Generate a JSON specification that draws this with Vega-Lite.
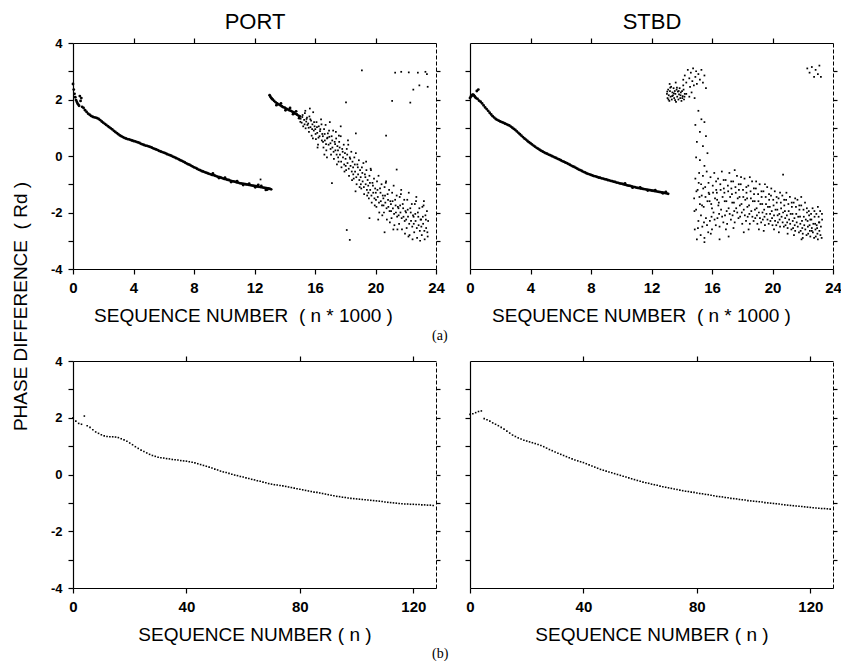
{
"$schema": "https://vega.github.io/schema/vega-lite/v6.json",
"background": "white",
"padding": {"left": 11, "top": 10, "right": 2, "bottom": 0},
"config": {
 "view": {"stroke": null},
 "font": "Liberation Sans",
 "axis": {"grid": false, "domainColor": "black", "tickColor": "black", "labelColor": "black", "titleColor": "black", "labelFont": "Liberation Sans", "labelFontWeight": "bold", "titleFont": "Liberation Sans", "titleFontWeight": "normal", "titleFontSize": 19, "labelFlush": false, "labelOverlap": false, "tickSize": 5, "domainWidth": 1.2, "tickWidth": 1.2, "titlePadding": 11},
 "axisX": {"labelFontSize": 15, "labelPadding": 6},
 "axisY": {"labelFontSize": 13, "labelPadding": 6},
 "title": {"font": "Liberation Serif", "fontWeight": "normal", "fontSize": 14, "color": "black"}
},
"datasets": {
 "portCurve": [{"x":0,"y":2.55},{"x":0.05,"y":2.35},{"x":0.1,"y":2.2},{"x":0.15,"y":2.08},{"x":0.2,"y":1.98},{"x":0.25,"y":1.92},{"x":0.3,"y":1.86},{"x":0.35,"y":1.82},{"x":0.4,"y":1.78},{"x":0.45,"y":2.12},{"x":0.5,"y":1.95},{"x":0.55,"y":2.05},{"x":0.6,"y":1.74},{"x":0.7,"y":1.7},{"x":0.8,"y":1.62},{"x":0.9,"y":1.56},{"x":1,"y":1.5},{"x":1.1,"y":1.46},{"x":1.2,"y":1.42},{"x":1.3,"y":1.39},{"x":1.4,"y":1.37},{"x":1.5,"y":1.36},{"x":1.6,"y":1.34},{"x":1.7,"y":1.31},{"x":1.8,"y":1.27},{"x":1.9,"y":1.22},{"x":2,"y":1.18},{"x":2.1,"y":1.14},{"x":2.2,"y":1.1},{"x":2.3,"y":1.06},{"x":2.4,"y":1.02},{"x":2.5,"y":0.98},{"x":2.6,"y":0.94},{"x":2.7,"y":0.89},{"x":2.8,"y":0.85},{"x":2.9,"y":0.81},{"x":3,"y":0.77},{"x":3.1,"y":0.73},{"x":3.2,"y":0.7},{"x":3.3,"y":0.67},{"x":3.4,"y":0.64},{"x":3.5,"y":0.62},{"x":3.6,"y":0.6},{"x":3.7,"y":0.59},{"x":3.8,"y":0.57},{"x":3.9,"y":0.55},{"x":4,"y":0.53},{"x":4.1,"y":0.52},{"x":4.2,"y":0.5},{"x":4.3,"y":0.48},{"x":4.4,"y":0.46},{"x":4.5,"y":0.43},{"x":4.6,"y":0.41},{"x":4.7,"y":0.39},{"x":4.8,"y":0.37},{"x":4.9,"y":0.36},{"x":5,"y":0.34},{"x":5.1,"y":0.32},{"x":5.2,"y":0.3},{"x":5.3,"y":0.27},{"x":5.4,"y":0.25},{"x":5.5,"y":0.23},{"x":5.6,"y":0.21},{"x":5.7,"y":0.18},{"x":5.8,"y":0.16},{"x":5.9,"y":0.14},{"x":6,"y":0.12},{"x":6.1,"y":0.1},{"x":6.2,"y":0.07},{"x":6.3,"y":0.05},{"x":6.4,"y":0.03},{"x":6.5,"y":0.01},{"x":6.6,"y":-0.02},{"x":6.7,"y":-0.04},{"x":6.8,"y":-0.07},{"x":6.9,"y":-0.09},{"x":7,"y":-0.12},{"x":7.1,"y":-0.15},{"x":7.2,"y":-0.17},{"x":7.3,"y":-0.2},{"x":7.4,"y":-0.23},{"x":7.5,"y":-0.26},{"x":7.6,"y":-0.29},{"x":7.7,"y":-0.31},{"x":7.8,"y":-0.34},{"x":7.9,"y":-0.37},{"x":8,"y":-0.4},{"x":8.1,"y":-0.42},{"x":8.2,"y":-0.45},{"x":8.3,"y":-0.48},{"x":8.4,"y":-0.5},{"x":8.5,"y":-0.53},{"x":8.6,"y":-0.55},{"x":8.7,"y":-0.57},{"x":8.8,"y":-0.59},{"x":8.9,"y":-0.61},{"x":9,"y":-0.63},{"x":9.1,"y":-0.65},{"x":9.2,"y":-0.67},{"x":9.3,"y":-0.68},{"x":9.4,"y":-0.7},{"x":9.5,"y":-0.72},{"x":9.6,"y":-0.74},{"x":9.7,"y":-0.75},{"x":9.8,"y":-0.77},{"x":9.9,"y":-0.79},{"x":10,"y":-0.81},{"x":10.1,"y":-0.82},{"x":10.2,"y":-0.84},{"x":10.3,"y":-0.85},{"x":10.4,"y":-0.87},{"x":10.5,"y":-0.89},{"x":10.6,"y":-0.9},{"x":10.7,"y":-0.91},{"x":10.8,"y":-0.93},{"x":10.9,"y":-0.94},{"x":11,"y":-0.96},{"x":11.1,"y":-0.97},{"x":11.2,"y":-0.98},{"x":11.3,"y":-0.99},{"x":11.4,"y":-1},{"x":11.5,"y":-1.01},{"x":11.6,"y":-1.02},{"x":11.7,"y":-1.03},{"x":11.8,"y":-1.04},{"x":11.9,"y":-1.05},{"x":12,"y":-1.06},{"x":12.1,"y":-1.07},{"x":12.2,"y":-1.08},{"x":12.3,"y":-1.09},{"x":12.4,"y":-1.1},{"x":12.5,"y":-1.11},{"x":12.6,"y":-1.12},{"x":12.7,"y":-1.13},{"x":12.8,"y":-1.14},{"x":12.9,"y":-1.15},{"x":13,"y":-1.16},{"x":13.1,"y":-1.18},{"x":9.25,"y":-0.62},{"x":9.65,"y":-0.78},{"x":10.05,"y":-0.77},{"x":10.45,"y":-0.92},{"x":10.85,"y":-0.89},{"x":11.25,"y":-1.03},{"x":11.65,"y":-0.98},{"x":12.05,"y":-1.11},{"x":12.45,"y":-1.06},{"x":12.85,"y":-1.19},{"x":12.25,"y":-1.02},{"x":12.75,"y":-1.2},{"x":13,"y":2.15},{"x":13.05,"y":2.1},{"x":13.1,"y":2.06},{"x":13.15,"y":2.03},{"x":13.2,"y":2},{"x":13.3,"y":1.95},{"x":13.4,"y":1.9},{"x":13.5,"y":1.86},{"x":13.6,"y":1.83},{"x":13.7,"y":1.8},{"x":13.8,"y":1.76},{"x":13.9,"y":1.73},{"x":14,"y":1.71},{"x":14.1,"y":1.68},{"x":14.2,"y":1.65},{"x":14.3,"y":1.62},{"x":14.4,"y":1.6},{"x":14.5,"y":1.57},{"x":14.6,"y":1.54},{"x":14.7,"y":1.5},{"x":14.8,"y":1.47},{"x":14.9,"y":1.43},{"x":15,"y":1.4},{"x":13.45,"y":1.8},{"x":13.75,"y":1.86},{"x":14.05,"y":1.62},{"x":14.35,"y":1.7},{"x":14.55,"y":1.48},{"x":14.75,"y":1.58},{"x":14.95,"y":1.34}],
 "portCloud": [{"x":12.4,"y":-0.83},{"x":15.05,"y":1.32},{"x":15.12,"y":1.18},{"x":15.18,"y":1.45},{"x":15.22,"y":1.05},{"x":15.28,"y":1.28},{"x":15.33,"y":1.52},{"x":15.38,"y":0.98},{"x":15.42,"y":1.22},{"x":15.47,"y":1.36},{"x":15.5,"y":1.1},{"x":15.55,"y":1.15},{"x":15.6,"y":0.85},{"x":15.63,"y":1.4},{"x":15.7,"y":1.02},{"x":15.74,"y":1.25},{"x":15.78,"y":0.72},{"x":15.83,"y":1.12},{"x":15.88,"y":1.55},{"x":15.92,"y":0.9},{"x":15.97,"y":1.05},{"x":15.66,"y":1.68},{"x":16.02,"y":0.95},{"x":16.06,"y":0.6},{"x":16.1,"y":1.2},{"x":16.15,"y":0.82},{"x":16.2,"y":0.4},{"x":16.25,"y":1.05},{"x":16.3,"y":0.7},{"x":16.35,"y":0.95},{"x":16.4,"y":1.3},{"x":16.45,"y":0.55},{"x":16.48,"y":0.78},{"x":16.52,"y":0.7},{"x":16.56,"y":0.3},{"x":16.6,"y":0.95},{"x":16.65,"y":0.55},{"x":16.7,"y":1.1},{"x":16.75,"y":0.2},{"x":16.8,"y":0.62},{"x":16.85,"y":0.8},{"x":16.9,"y":0.4},{"x":16.95,"y":0.68},{"x":16.98,"y":1.2},{"x":16.62,"y":0.05},{"x":17.02,"y":0.45},{"x":17.06,"y":0.05},{"x":17.1,"y":0.7},{"x":17.15,"y":0.3},{"x":17.2,"y":0.9},{"x":17.25,"y":-0.1},{"x":17.3,"y":0.5},{"x":17.35,"y":0.2},{"x":17.4,"y":0.62},{"x":17.45,"y":-0.3},{"x":17.48,"y":0.35},{"x":17.12,"y":-0.96},{"x":17.52,"y":0.2},{"x":17.56,"y":-0.2},{"x":17.6,"y":0.5},{"x":17.65,"y":0.05},{"x":17.7,"y":0.7},{"x":17.75,"y":-0.4},{"x":17.8,"y":0.25},{"x":17.85,"y":-0.05},{"x":17.9,"y":0.4},{"x":17.95,"y":-0.55},{"x":17.98,"y":0.1},{"x":17.7,"y":1.05},{"x":18.02,"y":-0.1},{"x":18.06,"y":-0.5},{"x":18.1,"y":0.25},{"x":18.15,"y":-0.25},{"x":18.2,"y":0.4},{"x":18.25,"y":-0.7},{"x":18.3,"y":-0.05},{"x":18.35,"y":-0.35},{"x":18.4,"y":0.15},{"x":18.45,"y":-0.85},{"x":18.48,"y":-0.2},{"x":18.05,"y":1.9},{"x":18.1,"y":-2.62},{"x":18.3,"y":-2.97},{"x":18.52,"y":-0.4},{"x":18.56,"y":-0.8},{"x":18.6,"y":-0.05},{"x":18.65,"y":-0.55},{"x":18.7,"y":0.1},{"x":18.75,"y":-1},{"x":18.8,"y":-0.3},{"x":18.85,"y":-0.65},{"x":18.9,"y":-0.15},{"x":18.95,"y":-1.1},{"x":18.98,"y":-0.5},{"x":18.7,"y":0.8},{"x":19.02,"y":-0.75},{"x":19.06,"y":-1.15},{"x":19.1,"y":-0.4},{"x":19.15,"y":-0.9},{"x":19.2,"y":-0.25},{"x":19.25,"y":-1.35},{"x":19.3,"y":-0.65},{"x":19.35,"y":-1},{"x":19.4,"y":-0.5},{"x":19.45,"y":-1.4},{"x":19.48,"y":-0.85},{"x":19.1,"y":3.03},{"x":19.52,"y":-1.05},{"x":19.56,"y":-1.5},{"x":19.6,"y":-0.7},{"x":19.65,"y":-1.2},{"x":19.7,"y":-0.5},{"x":19.75,"y":-1.65},{"x":19.8,"y":-0.95},{"x":19.85,"y":-1.3},{"x":19.9,"y":-0.8},{"x":19.95,"y":-1.75},{"x":19.98,"y":-1.15},{"x":19.6,"y":-2.2},{"x":20.02,"y":-1.3},{"x":20.06,"y":-1.8},{"x":20.1,"y":-0.9},{"x":20.15,"y":-1.45},{"x":20.2,"y":-0.7},{"x":20.25,"y":-2},{"x":20.3,"y":-1.15},{"x":20.35,"y":-1.6},{"x":20.4,"y":-1},{"x":20.45,"y":-2.1},{"x":20.48,"y":-1.4},{"x":20.7,"y":0.72},{"x":20.52,"y":-1.5},{"x":20.56,"y":-2},{"x":20.6,"y":-1.1},{"x":20.65,"y":-1.65},{"x":20.7,"y":-0.9},{"x":20.75,"y":-2.25},{"x":20.8,"y":-1.35},{"x":20.85,"y":-1.8},{"x":20.9,"y":-1.2},{"x":20.95,"y":-2.35},{"x":20.98,"y":-1.6},{"x":20.6,"y":-2.7},{"x":21.02,"y":-1.7},{"x":21.06,"y":-2.2},{"x":21.1,"y":-1.3},{"x":21.15,"y":-1.85},{"x":21.2,"y":-1.05},{"x":21.25,"y":-2.45},{"x":21.3,"y":-1.55},{"x":21.35,"y":-2},{"x":21.4,"y":-1.4},{"x":21.45,"y":-2.6},{"x":21.48,"y":-1.8},{"x":21.1,"y":1.95},{"x":21.4,"y":-0.48},{"x":21.3,"y":2.95},{"x":21.52,"y":-1.85},{"x":21.56,"y":-2.4},{"x":21.6,"y":-1.45},{"x":21.65,"y":-2},{"x":21.7,"y":-1.2},{"x":21.75,"y":-2.6},{"x":21.8,"y":-1.7},{"x":21.85,"y":-2.15},{"x":21.9,"y":-1.55},{"x":21.95,"y":-2.75},{"x":21.98,"y":-1.95},{"x":21.7,"y":2.98},{"x":22.02,"y":-2},{"x":22.06,"y":-2.55},{"x":22.1,"y":-1.55},{"x":22.15,"y":-2.15},{"x":22.2,"y":-1.3},{"x":22.25,"y":-2.8},{"x":22.3,"y":-1.85},{"x":22.35,"y":-2.3},{"x":22.4,"y":-1.7},{"x":22.45,"y":-2.95},{"x":22.48,"y":-2.1},{"x":22.3,"y":1.89},{"x":22.5,"y":2.35},{"x":22.2,"y":2.96},{"x":22.52,"y":-2.15},{"x":22.56,"y":-2.7},{"x":22.6,"y":-1.7},{"x":22.65,"y":-2.3},{"x":22.7,"y":-1.45},{"x":22.75,"y":-2.9},{"x":22.8,"y":-2},{"x":22.85,"y":-2.45},{"x":22.9,"y":-1.85},{"x":22.95,"y":-3},{"x":22.98,"y":-2.25},{"x":22.8,"y":2.95},{"x":22.9,"y":2.5},{"x":23.02,"y":-2.25},{"x":23.06,"y":-2.8},{"x":23.1,"y":-1.8},{"x":23.15,"y":-2.4},{"x":23.2,"y":-1.6},{"x":23.25,"y":-2.95},{"x":23.3,"y":-2.1},{"x":23.35,"y":-2.55},{"x":23.4,"y":-1.95},{"x":23.45,"y":-2.85},{"x":23.48,"y":-2.3},{"x":23.3,"y":2.98},{"x":23.4,"y":2.9},{"x":23.45,"y":2.45},{"x":15.03,"y":1.21},{"x":15.16,"y":1.38},{"x":15.31,"y":1.12},{"x":15.44,"y":1.31},{"x":15.36,"y":1.6},{"x":15.58,"y":1},{"x":15.69,"y":1.3},{"x":15.81,"y":0.95},{"x":15.94,"y":1.2},{"x":15.86,"y":0.62},{"x":16.04,"y":0.78},{"x":16.13,"y":1.02},{"x":16.23,"y":0.65},{"x":16.33,"y":0.88},{"x":16.43,"y":1.12},{"x":16.17,"y":0.3},{"x":16.53,"y":0.5},{"x":16.64,"y":0.78},{"x":16.73,"y":0.42},{"x":16.83,"y":0.65},{"x":16.93,"y":0.9},{"x":16.79,"y":-0.05},{"x":17.03,"y":0.25},{"x":17.14,"y":0.55},{"x":17.23,"y":0.15},{"x":17.33,"y":0.42},{"x":17.43,"y":0.05},{"x":17.38,"y":0.85},{"x":17.53,"y":-0.05},{"x":17.63,"y":0.3},{"x":17.73,"y":-0.2},{"x":17.83,"y":0.15},{"x":17.93,"y":-0.3},{"x":17.58,"y":0.72},{"x":18.03,"y":-0.35},{"x":18.13,"y":0.05},{"x":18.23,"y":-0.45},{"x":18.33,"y":-0.1},{"x":18.43,"y":-0.55},{"x":18.18,"y":0.55},{"x":18.53,"y":-0.65},{"x":18.63,"y":-0.3},{"x":18.73,"y":-0.75},{"x":18.83,"y":-0.4},{"x":18.93,"y":-0.85},{"x":18.68,"y":-1.25},{"x":19.03,"y":-1},{"x":19.13,"y":-0.6},{"x":19.23,"y":-1.1},{"x":19.33,"y":-0.75},{"x":19.43,"y":-1.2},{"x":19.38,"y":-0.2},{"x":19.53,"y":-1.3},{"x":19.63,"y":-0.95},{"x":19.73,"y":-1.4},{"x":19.83,"y":-1.05},{"x":19.93,"y":-1.5},{"x":19.68,"y":-0.45},{"x":20.03,"y":-1.55},{"x":20.13,"y":-1.2},{"x":20.23,"y":-1.65},{"x":20.33,"y":-1.3},{"x":20.43,"y":-1.75},{"x":20.18,"y":-2.25},{"x":20.53,"y":-1.75},{"x":20.63,"y":-1.4},{"x":20.73,"y":-1.85},{"x":20.83,"y":-1.55},{"x":20.93,"y":-1.95},{"x":20.68,"y":-0.95},{"x":21.03,"y":-1.95},{"x":21.13,"y":-1.6},{"x":21.23,"y":-2.05},{"x":21.33,"y":-1.75},{"x":21.43,"y":-2.15},{"x":21.18,"y":-2.6},{"x":21.53,"y":-2.1},{"x":21.63,"y":-1.75},{"x":21.73,"y":-2.2},{"x":21.83,"y":-1.85},{"x":21.93,"y":-2.3},{"x":21.68,"y":-1.35},{"x":22.03,"y":-2.25},{"x":22.13,"y":-1.9},{"x":22.23,"y":-2.4},{"x":22.33,"y":-2},{"x":22.43,"y":-2.5},{"x":22.18,"y":-2.85},{"x":22.53,"y":-2.4},{"x":22.63,"y":-2.05},{"x":22.73,"y":-2.55},{"x":22.83,"y":-2.15},{"x":22.93,"y":-2.65},{"x":22.68,"y":-1.6},{"x":23.03,"y":-2.5},{"x":23.13,"y":-2.15},{"x":23.23,"y":-2.65},{"x":23.33,"y":-2.25},{"x":23.43,"y":-2.7},{"x":23.18,"y":-1.75}],
 "stbdCurve": [{"x":0,"y":2.05},{"x":0.05,"y":2.1},{"x":0.1,"y":2.12},{"x":0.15,"y":2.16},{"x":0.2,"y":2.17},{"x":0.25,"y":2.15},{"x":0.3,"y":2.12},{"x":0.35,"y":2.08},{"x":0.4,"y":2.05},{"x":0.45,"y":2.3},{"x":0.5,"y":2.02},{"x":0.55,"y":2.35},{"x":0.6,"y":1.96},{"x":0.7,"y":1.92},{"x":0.8,"y":1.86},{"x":0.9,"y":1.79},{"x":1,"y":1.72},{"x":1.1,"y":1.66},{"x":1.2,"y":1.6},{"x":1.3,"y":1.53},{"x":1.4,"y":1.47},{"x":1.5,"y":1.41},{"x":1.6,"y":1.36},{"x":1.7,"y":1.31},{"x":1.8,"y":1.28},{"x":1.9,"y":1.25},{"x":2,"y":1.22},{"x":2.1,"y":1.2},{"x":2.2,"y":1.18},{"x":2.3,"y":1.15},{"x":2.4,"y":1.13},{"x":2.5,"y":1.1},{"x":2.6,"y":1.08},{"x":2.7,"y":1.04},{"x":2.8,"y":1},{"x":2.9,"y":0.96},{"x":3,"y":0.92},{"x":3.1,"y":0.87},{"x":3.2,"y":0.82},{"x":3.3,"y":0.77},{"x":3.4,"y":0.72},{"x":3.5,"y":0.67},{"x":3.6,"y":0.62},{"x":3.7,"y":0.58},{"x":3.8,"y":0.53},{"x":3.9,"y":0.49},{"x":4,"y":0.45},{"x":4.1,"y":0.41},{"x":4.2,"y":0.37},{"x":4.3,"y":0.33},{"x":4.4,"y":0.29},{"x":4.5,"y":0.26},{"x":4.6,"y":0.22},{"x":4.7,"y":0.19},{"x":4.8,"y":0.16},{"x":4.9,"y":0.13},{"x":5,"y":0.1},{"x":5.1,"y":0.08},{"x":5.2,"y":0.05},{"x":5.3,"y":0.03},{"x":5.4,"y":0},{"x":5.5,"y":-0.02},{"x":5.6,"y":-0.05},{"x":5.7,"y":-0.07},{"x":5.8,"y":-0.1},{"x":5.9,"y":-0.12},{"x":6,"y":-0.15},{"x":6.1,"y":-0.18},{"x":6.2,"y":-0.2},{"x":6.3,"y":-0.23},{"x":6.4,"y":-0.25},{"x":6.5,"y":-0.28},{"x":6.6,"y":-0.31},{"x":6.7,"y":-0.34},{"x":6.8,"y":-0.37},{"x":6.9,"y":-0.39},{"x":7,"y":-0.42},{"x":7.1,"y":-0.45},{"x":7.2,"y":-0.48},{"x":7.3,"y":-0.5},{"x":7.4,"y":-0.53},{"x":7.5,"y":-0.56},{"x":7.6,"y":-0.58},{"x":7.7,"y":-0.61},{"x":7.8,"y":-0.63},{"x":7.9,"y":-0.65},{"x":8,"y":-0.67},{"x":8.1,"y":-0.69},{"x":8.2,"y":-0.71},{"x":8.3,"y":-0.72},{"x":8.4,"y":-0.74},{"x":8.5,"y":-0.76},{"x":8.6,"y":-0.77},{"x":8.7,"y":-0.79},{"x":8.8,"y":-0.8},{"x":8.9,"y":-0.82},{"x":9,"y":-0.83},{"x":9.1,"y":-0.85},{"x":9.2,"y":-0.86},{"x":9.3,"y":-0.88},{"x":9.4,"y":-0.89},{"x":9.5,"y":-0.91},{"x":9.6,"y":-0.92},{"x":9.7,"y":-0.94},{"x":9.8,"y":-0.95},{"x":9.9,"y":-0.97},{"x":10,"y":-0.98},{"x":10.1,"y":-0.99},{"x":10.2,"y":-1.01},{"x":10.3,"y":-1.02},{"x":10.4,"y":-1.04},{"x":10.5,"y":-1.05},{"x":10.6,"y":-1.06},{"x":10.7,"y":-1.08},{"x":10.8,"y":-1.09},{"x":10.9,"y":-1.1},{"x":11,"y":-1.12},{"x":11.1,"y":-1.13},{"x":11.2,"y":-1.14},{"x":11.3,"y":-1.15},{"x":11.4,"y":-1.16},{"x":11.5,"y":-1.17},{"x":11.6,"y":-1.18},{"x":11.7,"y":-1.19},{"x":11.8,"y":-1.2},{"x":11.9,"y":-1.21},{"x":12,"y":-1.22},{"x":12.1,"y":-1.23},{"x":12.2,"y":-1.24},{"x":12.3,"y":-1.25},{"x":12.4,"y":-1.26},{"x":12.5,"y":-1.27},{"x":12.6,"y":-1.28},{"x":12.7,"y":-1.29},{"x":12.8,"y":-1.3},{"x":12.9,"y":-1.31},{"x":13,"y":-1.32},{"x":13.1,"y":-1.34},{"x":10.25,"y":-0.97},{"x":10.75,"y":-1.12},{"x":11.25,"y":-1.11},{"x":11.75,"y":-1.22},{"x":12.25,"y":-1.21},{"x":12.75,"y":-1.32},{"x":12.95,"y":-1.27}],
 "stbdCloud": [{"x":13.02,"y":2.2},{"x":13.06,"y":2.05},{"x":13.1,"y":2.35},{"x":13.14,"y":2.15},{"x":13.18,"y":1.95},{"x":13.22,"y":2.3},{"x":13.26,"y":2.1},{"x":13.3,"y":2.45},{"x":13.34,"y":2},{"x":13.38,"y":2.25},{"x":13.42,"y":2.15},{"x":13.46,"y":2.4},{"x":13.5,"y":2.05},{"x":13.54,"y":2.3},{"x":13.58,"y":2.2},{"x":13.62,"y":1.92},{"x":13.66,"y":2.35},{"x":13.7,"y":2.1},{"x":13.74,"y":2.28},{"x":13.78,"y":2},{"x":13.82,"y":2.18},{"x":13.86,"y":2.4},{"x":13.9,"y":2.05},{"x":13.94,"y":2.25},{"x":13.98,"y":1.95},{"x":14.02,"y":2.3},{"x":14.06,"y":2.12},{"x":14.1,"y":2.5},{"x":14.15,"y":2},{"x":14.2,"y":2.2},{"x":13.2,"y":2.55},{"x":13.6,"y":2.6},{"x":13.04,"y":2.28},{"x":13.12,"y":2},{"x":13.24,"y":2.42},{"x":13.36,"y":2.12},{"x":13.48,"y":2.22},{"x":13.56,"y":1.98},{"x":13.68,"y":2.42},{"x":13.8,"y":2.3},{"x":13.92,"y":2.15},{"x":14.04,"y":2.05},{"x":14.12,"y":2.35},{"x":14.18,"y":2.1},{"x":14.1,"y":2.7},{"x":14.2,"y":2.85},{"x":14.3,"y":2.6},{"x":14.4,"y":3.05},{"x":14.5,"y":2.75},{"x":14.55,"y":2.45},{"x":14.6,"y":2.95},{"x":14.7,"y":2.65},{"x":14.75,"y":3.1},{"x":14.8,"y":2.5},{"x":14.9,"y":2.8},{"x":14.95,"y":3},{"x":15,"y":2.55},{"x":15.1,"y":2.9},{"x":15.2,"y":2.7},{"x":15.3,"y":3.05},{"x":15.4,"y":2.6},{"x":15.5,"y":2.85},{"x":14.3,"y":2.2},{"x":14.5,"y":2.1},{"x":14.65,"y":2.25},{"x":14.85,"y":2.05},{"x":15.6,"y":2.4},{"x":15.1,"y":1.6},{"x":15.3,"y":1.3},{"x":14.9,"y":1.1},{"x":15.5,"y":1.2},{"x":15.2,"y":0.85},{"x":15.6,"y":0.7},{"x":15,"y":0.5},{"x":15.4,"y":0.35},{"x":15.7,"y":0.1},{"x":15.2,"y":-0.15},{"x":15.5,"y":-0.35},{"x":14.95,"y":-0.05},{"x":14.82,"y":-1.5},{"x":14.86,"y":-2.6},{"x":14.9,"y":-0.8},{"x":14.95,"y":-1.9},{"x":15,"y":-2.95},{"x":15.05,"y":-1.2},{"x":15.1,"y":-2.3},{"x":15.15,"y":-0.6},{"x":15.2,"y":-1.7},{"x":15.25,"y":-2.8},{"x":15.28,"y":-1},{"x":15.32,"y":-1.4},{"x":15.36,"y":-2.5},{"x":15.4,"y":-0.7},{"x":15.45,"y":-1.8},{"x":15.5,"y":-2.9},{"x":15.55,"y":-1.1},{"x":15.6,"y":-2.2},{"x":15.65,"y":-0.55},{"x":15.7,"y":-1.6},{"x":15.75,"y":-2.7},{"x":15.78,"y":-1.3},{"x":15.5,"y":-3.05},{"x":15.82,"y":-1.35},{"x":15.86,"y":-2.3},{"x":15.9,"y":-0.75},{"x":15.95,"y":-1.7},{"x":16,"y":-2.6},{"x":16.05,"y":-1.05},{"x":16.1,"y":-2},{"x":16.15,"y":-0.6},{"x":16.2,"y":-1.5},{"x":16.25,"y":-2.45},{"x":16.28,"y":-1.2},{"x":16,"y":-1.85},{"x":16.32,"y":-1.3},{"x":16.36,"y":-2.2},{"x":16.4,"y":-0.8},{"x":16.45,"y":-1.65},{"x":16.5,"y":-2.5},{"x":16.55,"y":-1},{"x":16.6,"y":-1.9},{"x":16.65,"y":-0.55},{"x":16.7,"y":-1.45},{"x":16.75,"y":-2.35},{"x":16.78,"y":-1.15},{"x":16.5,"y":-2.95},{"x":16.82,"y":-1.3},{"x":16.86,"y":-2.1},{"x":16.9,"y":-0.85},{"x":16.95,"y":-1.6},{"x":17,"y":-2.4},{"x":17.05,"y":-1.05},{"x":17.1,"y":-1.85},{"x":17.15,"y":-0.6},{"x":17.2,"y":-1.45},{"x":17.25,"y":-2.25},{"x":17.28,"y":-1.15},{"x":17.1,"y":-2.85},{"x":17.32,"y":-1.35},{"x":17.36,"y":-2.1},{"x":17.4,"y":-0.9},{"x":17.45,"y":-1.65},{"x":17.5,"y":-2.35},{"x":17.55,"y":-1.1},{"x":17.6,"y":-1.85},{"x":17.65,"y":-0.7},{"x":17.7,"y":-1.5},{"x":17.75,"y":-2.2},{"x":17.78,"y":-1.2},{"x":17.5,"y":-0.5},{"x":17.82,"y":-1.45},{"x":17.86,"y":-2.15},{"x":17.9,"y":-1},{"x":17.95,"y":-1.7},{"x":18,"y":-2.4},{"x":18.05,"y":-1.2},{"x":18.1,"y":-1.9},{"x":18.15,"y":-0.8},{"x":18.2,"y":-1.55},{"x":18.25,"y":-2.3},{"x":18.28,"y":-1.3},{"x":18.1,"y":-2.7},{"x":18.32,"y":-1.5},{"x":18.36,"y":-2.15},{"x":18.4,"y":-1.05},{"x":18.45,"y":-1.75},{"x":18.5,"y":-2.4},{"x":18.55,"y":-1.25},{"x":18.6,"y":-1.95},{"x":18.65,"y":-0.9},{"x":18.7,"y":-1.6},{"x":18.75,"y":-2.3},{"x":18.78,"y":-1.35},{"x":18.5,"y":-0.75},{"x":18.82,"y":-1.6},{"x":18.86,"y":-2.2},{"x":18.9,"y":-1.15},{"x":18.95,"y":-1.85},{"x":19,"y":-2.4},{"x":19.05,"y":-1.35},{"x":19.1,"y":-2},{"x":19.15,"y":-1},{"x":19.2,"y":-1.7},{"x":19.25,"y":-2.35},{"x":19.28,"y":-1.45},{"x":19.1,"y":-2.6},{"x":19.32,"y":-1.7},{"x":19.36,"y":-2.25},{"x":19.4,"y":-1.25},{"x":19.45,"y":-1.9},{"x":19.5,"y":-2.45},{"x":19.55,"y":-1.45},{"x":19.6,"y":-2.05},{"x":19.65,"y":-1.1},{"x":19.7,"y":-1.8},{"x":19.75,"y":-2.4},{"x":19.78,"y":-1.55},{"x":19.5,"y":-1},{"x":19.82,"y":-1.8},{"x":19.86,"y":-2.3},{"x":19.9,"y":-1.4},{"x":19.95,"y":-1.95},{"x":20,"y":-2.45},{"x":20.05,"y":-1.55},{"x":20.1,"y":-2.1},{"x":20.15,"y":-1.25},{"x":20.2,"y":-1.9},{"x":20.25,"y":-2.45},{"x":20.28,"y":-1.65},{"x":20.1,"y":-2.6},{"x":20.7,"y":-0.66},{"x":20.32,"y":-1.9},{"x":20.36,"y":-2.35},{"x":20.4,"y":-1.5},{"x":20.45,"y":-2.05},{"x":20.5,"y":-2.5},{"x":20.55,"y":-1.65},{"x":20.6,"y":-2.15},{"x":20.65,"y":-1.4},{"x":20.7,"y":-2},{"x":20.75,"y":-2.5},{"x":20.78,"y":-1.75},{"x":20.5,"y":-1.3},{"x":20.82,"y":-1.95},{"x":20.86,"y":-2.45},{"x":20.9,"y":-1.55},{"x":20.95,"y":-2.1},{"x":21,"y":-2.55},{"x":21.05,"y":-1.7},{"x":21.1,"y":-2.25},{"x":21.15,"y":-1.45},{"x":21.2,"y":-2.05},{"x":21.25,"y":-2.6},{"x":21.28,"y":-1.8},{"x":21,"y":-2.75},{"x":21.32,"y":-2.05},{"x":21.36,"y":-2.55},{"x":21.4,"y":-1.65},{"x":21.45,"y":-2.2},{"x":21.5,"y":-2.65},{"x":21.55,"y":-1.8},{"x":21.6,"y":-2.35},{"x":21.65,"y":-1.55},{"x":21.7,"y":-2.15},{"x":21.75,"y":-2.7},{"x":21.78,"y":-1.9},{"x":21.5,"y":-1.5},{"x":21.82,"y":-2.15},{"x":21.86,"y":-2.65},{"x":21.9,"y":-1.75},{"x":21.95,"y":-2.3},{"x":22,"y":-2.75},{"x":22.05,"y":-1.9},{"x":22.1,"y":-2.45},{"x":22.15,"y":-1.65},{"x":22.2,"y":-2.25},{"x":22.25,"y":-2.8},{"x":22.28,"y":-2},{"x":22,"y":-2.9},{"x":21.9,"y":-1.45},{"x":22.32,"y":-2.3},{"x":22.36,"y":-2.75},{"x":22.4,"y":-1.95},{"x":22.45,"y":-2.45},{"x":22.5,"y":-2.85},{"x":22.55,"y":-2.05},{"x":22.6,"y":-2.55},{"x":22.65,"y":-1.85},{"x":22.7,"y":-2.4},{"x":22.75,"y":-2.9},{"x":22.78,"y":-2.15},{"x":22.6,"y":-2.65},{"x":22.5,"y":-2.25},{"x":22.82,"y":-2.4},{"x":22.86,"y":-2.85},{"x":22.9,"y":-2.05},{"x":22.95,"y":-2.55},{"x":23,"y":-2.95},{"x":23.05,"y":-2.15},{"x":23.1,"y":-2.65},{"x":23.15,"y":-1.95},{"x":23.2,"y":-2.5},{"x":23.25,"y":-2.9},{"x":23.28,"y":-2.25},{"x":23.1,"y":-2.35},{"x":23,"y":-1.8},{"x":22.3,"y":3.1},{"x":22.45,"y":2.95},{"x":22.6,"y":3.15},{"x":22.75,"y":2.8},{"x":22.85,"y":3.05},{"x":23,"y":2.9},{"x":23.1,"y":3.2},{"x":23.2,"y":2.8},{"x":14.84,"y":-1.95},{"x":14.97,"y":-1.25},{"x":15.07,"y":-2.55},{"x":15.17,"y":-1.45},{"x":15.27,"y":-2.1},{"x":15.12,"y":-0.95},{"x":15.34,"y":-1.75},{"x":15.47,"y":-2.35},{"x":15.57,"y":-1.45},{"x":15.67,"y":-2.45},{"x":15.77,"y":-0.95},{"x":15.42,"y":-1.15},{"x":15.84,"y":-1.6},{"x":15.97,"y":-2.15},{"x":16.07,"y":-1.3},{"x":16.17,"y":-2.25},{"x":16.27,"y":-0.9},{"x":15.92,"y":-2.75},{"x":16.34,"y":-1.55},{"x":16.47,"y":-2.05},{"x":16.57,"y":-1.2},{"x":16.67,"y":-2.15},{"x":16.77,"y":-0.85},{"x":16.42,"y":-1.75},{"x":16.84,"y":-1.6},{"x":16.97,"y":-1.95},{"x":17.07,"y":-1.25},{"x":17.17,"y":-2.05},{"x":17.27,"y":-0.9},{"x":16.92,"y":-2.6},{"x":17.34,"y":-1.65},{"x":17.47,"y":-1.95},{"x":17.57,"y":-1.3},{"x":17.67,"y":-2},{"x":17.77,"y":-1},{"x":17.42,"y":-2.55},{"x":17.84,"y":-1.75},{"x":17.97,"y":-2},{"x":18.07,"y":-1.45},{"x":18.17,"y":-2.1},{"x":18.27,"y":-1.1},{"x":17.92,"y":-0.75},{"x":18.34,"y":-1.8},{"x":18.47,"y":-2.05},{"x":18.57,"y":-1.5},{"x":18.67,"y":-2.15},{"x":18.77,"y":-1.15},{"x":18.42,"y":-2.6},{"x":18.84,"y":-1.9},{"x":18.97,"y":-2.1},{"x":19.07,"y":-1.6},{"x":19.17,"y":-2.2},{"x":19.27,"y":-1.25},{"x":18.92,"y":-0.9},{"x":19.34,"y":-2},{"x":19.47,"y":-2.15},{"x":19.57,"y":-1.7},{"x":19.67,"y":-2.25},{"x":19.77,"y":-1.35},{"x":19.42,"y":-2.65},{"x":19.84,"y":-2.05},{"x":19.97,"y":-2.2},{"x":20.07,"y":-1.75},{"x":20.17,"y":-2.3},{"x":20.27,"y":-1.45},{"x":19.92,"y":-1.15},{"x":20.34,"y":-2.1},{"x":20.47,"y":-2.25},{"x":20.57,"y":-1.85},{"x":20.67,"y":-2.35},{"x":20.77,"y":-1.55},{"x":20.42,"y":-2.7},{"x":20.84,"y":-2.2},{"x":20.97,"y":-2.35},{"x":21.07,"y":-1.95},{"x":21.17,"y":-2.4},{"x":21.27,"y":-1.65},{"x":20.92,"y":-1.3},{"x":21.34,"y":-2.3},{"x":21.47,"y":-2.45},{"x":21.57,"y":-2.05},{"x":21.67,"y":-2.5},{"x":21.77,"y":-1.75},{"x":21.42,"y":-2.8},{"x":21.84,"y":-2.4},{"x":21.97,"y":-2.55},{"x":22.07,"y":-2.15},{"x":22.17,"y":-2.6},{"x":22.27,"y":-1.85},{"x":21.92,"y":-2.95},{"x":22.34,"y":-2.5},{"x":22.47,"y":-2.65},{"x":22.57,"y":-2.25},{"x":22.67,"y":-2.7},{"x":22.77,"y":-1.95},{"x":22.42,"y":-2.1},{"x":22.84,"y":-2.6},{"x":22.97,"y":-2.75},{"x":23.07,"y":-2.35},{"x":23.17,"y":-2.8},{"x":23.27,"y":-2.05},{"x":22.92,"y":-2.45}],
 "portSeq": [{"n":0,"y":2},{"n":1,"y":1.88},{"n":2,"y":1.8},{"n":3,"y":1.77},{"n":4,"y":2.06},{"n":5,"y":1.72},{"n":6,"y":1.66},{"n":7,"y":1.58},{"n":8,"y":1.5},{"n":9,"y":1.45},{"n":10,"y":1.4},{"n":11,"y":1.36},{"n":12,"y":1.34},{"n":13,"y":1.33},{"n":14,"y":1.33},{"n":15,"y":1.32},{"n":16,"y":1.3},{"n":17,"y":1.26},{"n":18,"y":1.22},{"n":19,"y":1.17},{"n":20,"y":1.11},{"n":21,"y":1.05},{"n":22,"y":0.98},{"n":23,"y":0.92},{"n":24,"y":0.86},{"n":25,"y":0.81},{"n":26,"y":0.76},{"n":27,"y":0.71},{"n":28,"y":0.67},{"n":29,"y":0.64},{"n":30,"y":0.61},{"n":31,"y":0.59},{"n":32,"y":0.58},{"n":33,"y":0.56},{"n":34,"y":0.55},{"n":35,"y":0.53},{"n":36,"y":0.52},{"n":37,"y":0.51},{"n":38,"y":0.49},{"n":39,"y":0.48},{"n":40,"y":0.47},{"n":41,"y":0.45},{"n":42,"y":0.43},{"n":43,"y":0.41},{"n":44,"y":0.38},{"n":45,"y":0.35},{"n":46,"y":0.32},{"n":47,"y":0.29},{"n":48,"y":0.26},{"n":49,"y":0.23},{"n":50,"y":0.19},{"n":51,"y":0.16},{"n":52,"y":0.12},{"n":53,"y":0.09},{"n":54,"y":0.07},{"n":55,"y":0.04},{"n":56,"y":0.01},{"n":57,"y":-0.02},{"n":58,"y":-0.04},{"n":59,"y":-0.07},{"n":60,"y":-0.09},{"n":61,"y":-0.12},{"n":62,"y":-0.14},{"n":63,"y":-0.17},{"n":64,"y":-0.19},{"n":65,"y":-0.22},{"n":66,"y":-0.24},{"n":67,"y":-0.27},{"n":68,"y":-0.29},{"n":69,"y":-0.32},{"n":70,"y":-0.34},{"n":71,"y":-0.36},{"n":72,"y":-0.37},{"n":73,"y":-0.39},{"n":74,"y":-0.4},{"n":75,"y":-0.42},{"n":76,"y":-0.44},{"n":77,"y":-0.46},{"n":78,"y":-0.48},{"n":79,"y":-0.5},{"n":80,"y":-0.52},{"n":81,"y":-0.54},{"n":82,"y":-0.56},{"n":83,"y":-0.58},{"n":84,"y":-0.6},{"n":85,"y":-0.62},{"n":86,"y":-0.63},{"n":87,"y":-0.65},{"n":88,"y":-0.67},{"n":89,"y":-0.69},{"n":90,"y":-0.71},{"n":91,"y":-0.73},{"n":92,"y":-0.75},{"n":93,"y":-0.77},{"n":94,"y":-0.78},{"n":95,"y":-0.8},{"n":96,"y":-0.81},{"n":97,"y":-0.83},{"n":98,"y":-0.84},{"n":99,"y":-0.85},{"n":100,"y":-0.86},{"n":101,"y":-0.87},{"n":102,"y":-0.88},{"n":103,"y":-0.89},{"n":104,"y":-0.9},{"n":105,"y":-0.91},{"n":106,"y":-0.92},{"n":107,"y":-0.93},{"n":108,"y":-0.94},{"n":109,"y":-0.95},{"n":110,"y":-0.97},{"n":111,"y":-0.98},{"n":112,"y":-0.99},{"n":113,"y":-1},{"n":114,"y":-1.01},{"n":115,"y":-1.02},{"n":116,"y":-1.03},{"n":117,"y":-1.04},{"n":118,"y":-1.04},{"n":119,"y":-1.05},{"n":120,"y":-1.05},{"n":121,"y":-1.06},{"n":122,"y":-1.06},{"n":123,"y":-1.07},{"n":124,"y":-1.07},{"n":125,"y":-1.08},{"n":126,"y":-1.08},{"n":127,"y":-1.09}],
 "stbdSeq": [{"n":0,"y":2.12},{"n":1,"y":2.14},{"n":2,"y":2.18},{"n":3,"y":2.22},{"n":4,"y":2.24},{"n":5,"y":1.97},{"n":6,"y":1.93},{"n":7,"y":1.88},{"n":8,"y":1.82},{"n":9,"y":1.77},{"n":10,"y":1.72},{"n":11,"y":1.66},{"n":12,"y":1.6},{"n":13,"y":1.53},{"n":14,"y":1.46},{"n":15,"y":1.39},{"n":16,"y":1.34},{"n":17,"y":1.29},{"n":18,"y":1.25},{"n":19,"y":1.21},{"n":20,"y":1.18},{"n":21,"y":1.15},{"n":22,"y":1.12},{"n":23,"y":1.09},{"n":24,"y":1.06},{"n":25,"y":1.02},{"n":26,"y":0.98},{"n":27,"y":0.93},{"n":28,"y":0.88},{"n":29,"y":0.84},{"n":30,"y":0.79},{"n":31,"y":0.75},{"n":32,"y":0.71},{"n":33,"y":0.67},{"n":34,"y":0.63},{"n":35,"y":0.59},{"n":36,"y":0.55},{"n":37,"y":0.51},{"n":38,"y":0.48},{"n":39,"y":0.45},{"n":40,"y":0.42},{"n":41,"y":0.38},{"n":42,"y":0.34},{"n":43,"y":0.3},{"n":44,"y":0.26},{"n":45,"y":0.22},{"n":46,"y":0.18},{"n":47,"y":0.15},{"n":48,"y":0.12},{"n":49,"y":0.09},{"n":50,"y":0.06},{"n":51,"y":0.03},{"n":52,"y":0},{"n":53,"y":-0.03},{"n":54,"y":-0.06},{"n":55,"y":-0.09},{"n":56,"y":-0.12},{"n":57,"y":-0.15},{"n":58,"y":-0.18},{"n":59,"y":-0.21},{"n":60,"y":-0.24},{"n":61,"y":-0.27},{"n":62,"y":-0.29},{"n":63,"y":-0.31},{"n":64,"y":-0.34},{"n":65,"y":-0.36},{"n":66,"y":-0.38},{"n":67,"y":-0.41},{"n":68,"y":-0.43},{"n":69,"y":-0.45},{"n":70,"y":-0.47},{"n":71,"y":-0.49},{"n":72,"y":-0.51},{"n":73,"y":-0.53},{"n":74,"y":-0.55},{"n":75,"y":-0.57},{"n":76,"y":-0.59},{"n":77,"y":-0.6},{"n":78,"y":-0.62},{"n":79,"y":-0.63},{"n":80,"y":-0.65},{"n":81,"y":-0.67},{"n":82,"y":-0.68},{"n":83,"y":-0.7},{"n":84,"y":-0.71},{"n":85,"y":-0.73},{"n":86,"y":-0.75},{"n":87,"y":-0.77},{"n":88,"y":-0.78},{"n":89,"y":-0.79},{"n":90,"y":-0.81},{"n":91,"y":-0.82},{"n":92,"y":-0.84},{"n":93,"y":-0.85},{"n":94,"y":-0.86},{"n":95,"y":-0.88},{"n":96,"y":-0.89},{"n":97,"y":-0.9},{"n":98,"y":-0.92},{"n":99,"y":-0.93},{"n":100,"y":-0.94},{"n":101,"y":-0.95},{"n":102,"y":-0.96},{"n":103,"y":-0.97},{"n":104,"y":-0.99},{"n":105,"y":-1},{"n":106,"y":-1.01},{"n":107,"y":-1.02},{"n":108,"y":-1.03},{"n":109,"y":-1.04},{"n":110,"y":-1.06},{"n":111,"y":-1.07},{"n":112,"y":-1.08},{"n":113,"y":-1.09},{"n":114,"y":-1.1},{"n":115,"y":-1.11},{"n":116,"y":-1.12},{"n":117,"y":-1.13},{"n":118,"y":-1.14},{"n":119,"y":-1.15},{"n":120,"y":-1.16},{"n":121,"y":-1.17},{"n":122,"y":-1.18},{"n":123,"y":-1.19},{"n":124,"y":-1.2},{"n":125,"y":-1.2},{"n":126,"y":-1.21},{"n":127,"y":-1.22}]
},
"columns": 2,
"spacing": {"row": 92, "column": 34},
"bounds": "flush",
"concat": [
 {
  "width": 363, "height": 226,
  "layer": [
   {"data": {"name": "portCurve"}, "mark": {"type": "circle", "size": 8, "color": "black", "opacity": 1},
    "encoding": {
     "x": {"field": "x", "type": "quantitative", "scale": {"domain": [0, 24], "nice": false, "zero": false}, "axis": {"orient": "bottom", "values": [0, 4, 8, 12, 16, 20, 24], "title": "SEQUENCE NUMBER\u00a0\u00a0( n * 1000 )", "titleX": 170, "titleAlign": "center"}},
     "y": {"field": "y", "type": "quantitative", "scale": {"domain": [-4, 4], "nice": false, "zero": false}, "axis": {"orient": "left", "values": [-4, -3, -2, -1, 0, 1, 2, 3, 4], "labelExpr": "datum.value % 2 === 0 ? '' + datum.value : ''", "title": "PHASE DIFFERENCE\u00a0\u00a0( Rd )", "titleX": -53, "titleY": 263, "titleAngle": 270, "titleAlign": "center", "titleBaseline": "middle"}}
    }},
   {"data": {"name": "portCloud"}, "mark": {"type": "square", "size": 3, "color": "black", "opacity": 1},
    "encoding": {
     "x": {"field": "x", "type": "quantitative", "scale": {"domain": [0, 24], "nice": false, "zero": false}, "axis": {"orient": "top", "values": [4, 8, 12, 16, 20], "labels": false, "title": "PORT", "titleFontSize": 22, "titlePadding": 4}},
     "y": {"field": "y", "type": "quantitative", "scale": {"domain": [-4, 4], "nice": false, "zero": false}, "axis": {"orient": "right", "values": [-3, -2, -1, 0, 1, 2, 3], "labels": false, "title": null, "tickSize": 4, "domainDash": [4, 2], "domainWidth": 1}}
    }}
  ],
  "resolve": {"axis": {"x": "independent", "y": "independent"}}
 },
 {
  "width": 363, "height": 226,
  "title": {"text": "(a)", "orient": "bottom", "anchor": "start", "frame": "group", "dx": -38, "offset": 4},
  "layer": [
   {"data": {"name": "stbdCurve"}, "mark": {"type": "circle", "size": 8, "color": "black", "opacity": 1},
    "encoding": {
     "x": {"field": "x", "type": "quantitative", "scale": {"domain": [0, 24], "nice": false, "zero": false}, "axis": {"orient": "bottom", "values": [0, 4, 8, 12, 16, 20, 24], "title": "SEQUENCE NUMBER\u00a0\u00a0( n * 1000 )", "titleX": 171, "titleAlign": "center"}},
     "y": {"field": "y", "type": "quantitative", "scale": {"domain": [-4, 4], "nice": false, "zero": false}, "axis": {"orient": "left", "values": [-3, -2, -1, 0, 1, 2, 3], "labels": false, "title": null}}
    }},
   {"data": {"name": "stbdCloud"}, "mark": {"type": "square", "size": 3, "color": "black", "opacity": 1},
    "encoding": {
     "x": {"field": "x", "type": "quantitative", "scale": {"domain": [0, 24], "nice": false, "zero": false}, "axis": {"orient": "top", "values": [4, 8, 12, 16, 20], "labels": false, "title": "STBD", "titleFontSize": 22, "titlePadding": 4}},
     "y": {"field": "y", "type": "quantitative", "scale": {"domain": [-4, 4], "nice": false, "zero": false}, "axis": {"orient": "right", "values": [-3, -2, -1, 0, 1, 2, 3], "labels": false, "title": null, "tickSize": 4, "domainDash": [4, 2], "domainWidth": 1}}
    }}
  ],
  "resolve": {"axis": {"x": "independent", "y": "independent"}}
 },
 {
  "width": 363, "height": 227,
  "layer": [
   {"data": {"name": "portSeq"}, "mark": {"type": "square", "size": 2.5, "color": "black", "opacity": 1},
    "encoding": {
     "x": {"field": "n", "type": "quantitative", "scale": {"domain": [0, 128], "nice": false, "zero": false}, "axis": {"orient": "bottom", "values": [0, 40, 80, 120], "title": "SEQUENCE NUMBER ( n )"}},
     "y": {"field": "y", "type": "quantitative", "scale": {"domain": [-4, 4], "nice": false, "zero": false}, "axis": {"orient": "left", "values": [-4, -3, -2, -1, 0, 1, 2, 3, 4], "labelExpr": "datum.value % 2 === 0 ? '' + datum.value : ''", "title": null}}
    }},
   {"data": {"name": "portSeq"}, "mark": {"type": "square", "size": 2.5, "opacity": 0},
    "encoding": {
     "x": {"field": "n", "type": "quantitative", "scale": {"domain": [0, 128], "nice": false, "zero": false}, "axis": {"orient": "top", "values": [40, 80, 120], "labels": false, "title": null}},
     "y": {"field": "y", "type": "quantitative", "scale": {"domain": [-4, 4], "nice": false, "zero": false}, "axis": {"orient": "right", "values": [-3, -2, -1, 0, 1, 2, 3], "labels": false, "title": null, "tickSize": 4, "domainDash": [4, 2], "domainWidth": 1}}
    }}
  ],
  "resolve": {"axis": {"x": "independent", "y": "independent"}}
 },
 {
  "width": 363, "height": 227,
  "title": {"text": "(b)", "orient": "bottom", "anchor": "start", "frame": "group", "dx": -38, "offset": 3},
  "layer": [
   {"data": {"name": "stbdSeq"}, "mark": {"type": "square", "size": 2.5, "color": "black", "opacity": 1},
    "encoding": {
     "x": {"field": "n", "type": "quantitative", "scale": {"domain": [0, 128], "nice": false, "zero": false}, "axis": {"orient": "bottom", "values": [0, 40, 80, 120], "title": "SEQUENCE NUMBER ( n )"}},
     "y": {"field": "y", "type": "quantitative", "scale": {"domain": [-4, 4], "nice": false, "zero": false}, "axis": {"orient": "left", "values": [-3, -2, -1, 0, 1, 2, 3], "labels": false, "title": null}}
    }},
   {"data": {"name": "stbdSeq"}, "mark": {"type": "square", "size": 2.5, "opacity": 0},
    "encoding": {
     "x": {"field": "n", "type": "quantitative", "scale": {"domain": [0, 128], "nice": false, "zero": false}, "axis": {"orient": "top", "values": [40, 80, 120], "labels": false, "title": null}},
     "y": {"field": "y", "type": "quantitative", "scale": {"domain": [-4, 4], "nice": false, "zero": false}, "axis": {"orient": "right", "values": [-3, -2, -1, 0, 1, 2, 3], "labels": false, "title": null, "tickSize": 4, "domainDash": [4, 2], "domainWidth": 1}}
    }}
  ],
  "resolve": {"axis": {"x": "independent", "y": "independent"}}
 }
]
}
